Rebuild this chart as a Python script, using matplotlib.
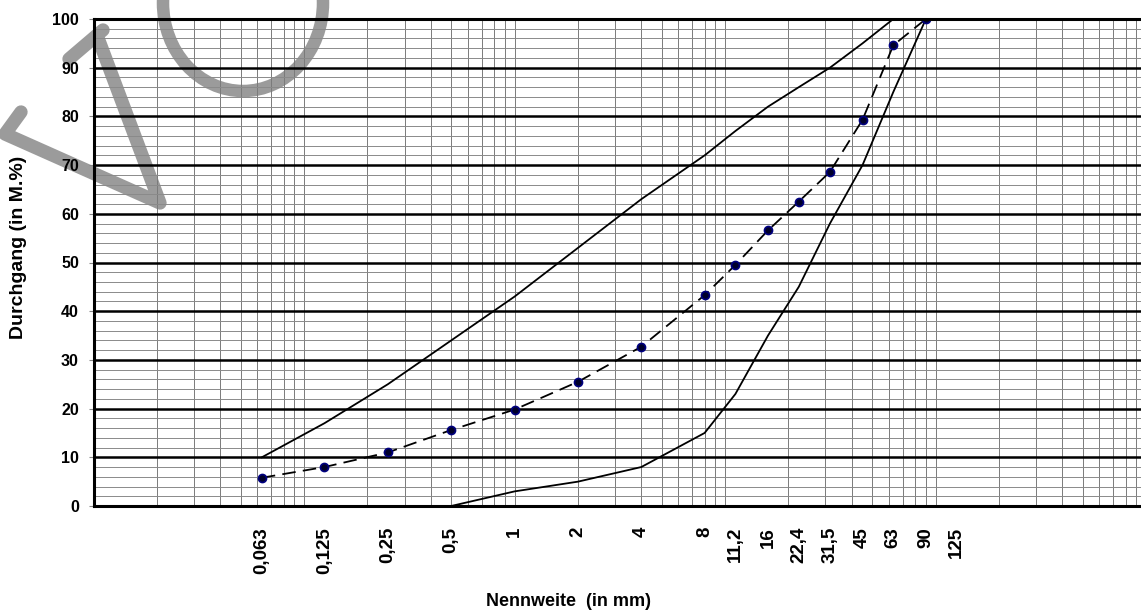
import numpy as np
import matplotlib
matplotlib.use("Agg")
import matplotlib.pyplot as plt
from matplotlib.ticker import LogLocator, MultipleLocator, NullFormatter
from matplotlib.patches import Ellipse

plt.rcParams["font.family"] = ["Liberation Sans", "DejaVu Sans"]

# sieve sizes (mm) and their axis labels
sieve_sizes = [0.063, 0.125, 0.25, 0.5, 1, 2, 4, 8, 11.2, 16, 22.4, 31.5, 45, 63, 90, 125]
sieve_labels = ["0,063", "0,125", "0,25", "0,5", "1", "2", "4", "8", "11,2",
                "16", "22,4", "31,5", "45", "63", "90", "125"]

# upper limit curve
upper_x = [0.063, 0.125, 0.25, 0.5, 1, 2, 4, 8, 11.2, 16, 22.4, 31.5, 45, 63]
upper_y = [10, 17, 25, 34, 43, 53, 63, 72, 77, 82, 86, 90, 95, 100]

# lower limit curve
lower_x = [0.5, 1, 2, 4, 8, 11.2, 16, 22.4, 31.5, 45, 63, 90]
lower_y = [0, 3, 5, 8, 15, 23, 35, 45, 58, 70, 85, 100]

# measured grading curve
sample_x = [0.063, 0.125, 0.25, 0.5, 1, 2, 4, 8, 11.2, 16, 22.4, 31.5, 45, 63, 90]
sample_y = [5.8, 8.0, 11.0, 15.6, 19.8, 25.5, 32.7, 43.3, 49.5, 56.6, 62.5, 68.6, 79.3, 94.6, 100]

W, H = 1141, 614
fig = plt.figure(figsize=(W / 100, H / 100), dpi=100)

# grey watermark strokes behind the chart, drawn in pixel space
ov = fig.add_axes([0, 0, 1, 1], zorder=0)
ov.set_xlim(0, W)
ov.set_ylim(H, 0)
ov.axis("off")
wm = "#9b9b9b"
ov.plot([21, 5, 160, 98], [112, 134, 203, 38], color=wm, lw=9.6,
        solid_capstyle="round", solid_joinstyle="round")
ov.plot([69, 103], [59, 30], color=wm, lw=9.6, solid_capstyle="round")
ov.add_patch(Ellipse((243, 3), 160, 176, fill=False, edgecolor=wm, lw=9))

ax = fig.add_axes([93.6 / W, 108 / H, (1146 - 93.6) / W, 487 / H], zorder=1)
ax.patch.set_alpha(0)

ax.set_xscale("log")
ax.set_xlim(0.01, 1000)
ax.set_ylim(0, 100)

# grid
ax.xaxis.remove_overlapping_locs = False
ax.xaxis.set_minor_locator(LogLocator(base=10, subs=np.arange(1, 10), numticks=50))
ax.xaxis.set_minor_formatter(NullFormatter())
ax.yaxis.set_major_locator(MultipleLocator(10))
ax.yaxis.set_minor_locator(MultipleLocator(2))
ax.grid(which="minor", axis="x", color="#7a7a7a", lw=0.7)
ax.grid(which="minor", axis="y", color="#8a8a8a", lw=0.7)
ax.grid(which="major", axis="y", color="black", lw=1.8)
ax.grid(which="major", axis="x", visible=False)
ax.set_axisbelow(True)

ax.plot(upper_x, upper_y, color="black", lw=1.3)
ax.plot(lower_x, lower_y, color="black", lw=1.3)
ax.plot(sample_x, sample_y, color="black", lw=1.3, linestyle=(0, (7.5, 4)),
        marker="o", markersize=5.8, markerfacecolor="#00002a",
        markeredgecolor="#000080", markeredgewidth=1.2)

ax.set_xticks(sieve_sizes)
ax.set_xticklabels(sieve_labels, rotation=90, fontsize=13.5, fontweight="bold")
ax.tick_params(axis="x", which="major", length=0, pad=15)
ax.tick_params(axis="x", which="minor", length=0)
ax.tick_params(axis="y", which="major", length=3.6, width=0.8, color="#888888",
               pad=7, labelsize=11.5)
ax.tick_params(axis="y", which="minor", length=0)
for lab in ax.get_yticklabels():
    lab.set_fontweight("bold")

for side in ("left", "bottom", "top"):
    ax.spines[side].set_linewidth(2.2)
ax.spines["right"].set_visible(False)

fig.text(19 / W, 1 - 247 / H, "Durchgang (in M.%)", rotation=90, ha="center",
         va="center", fontsize=14, fontweight="bold", zorder=2)
fig.text(568 / W, 1 - 601 / H, "Nennweite  (in mm)", ha="center", va="center",
         fontsize=13, fontweight="bold", zorder=2)

fig.savefig("out.png", dpi=100)
